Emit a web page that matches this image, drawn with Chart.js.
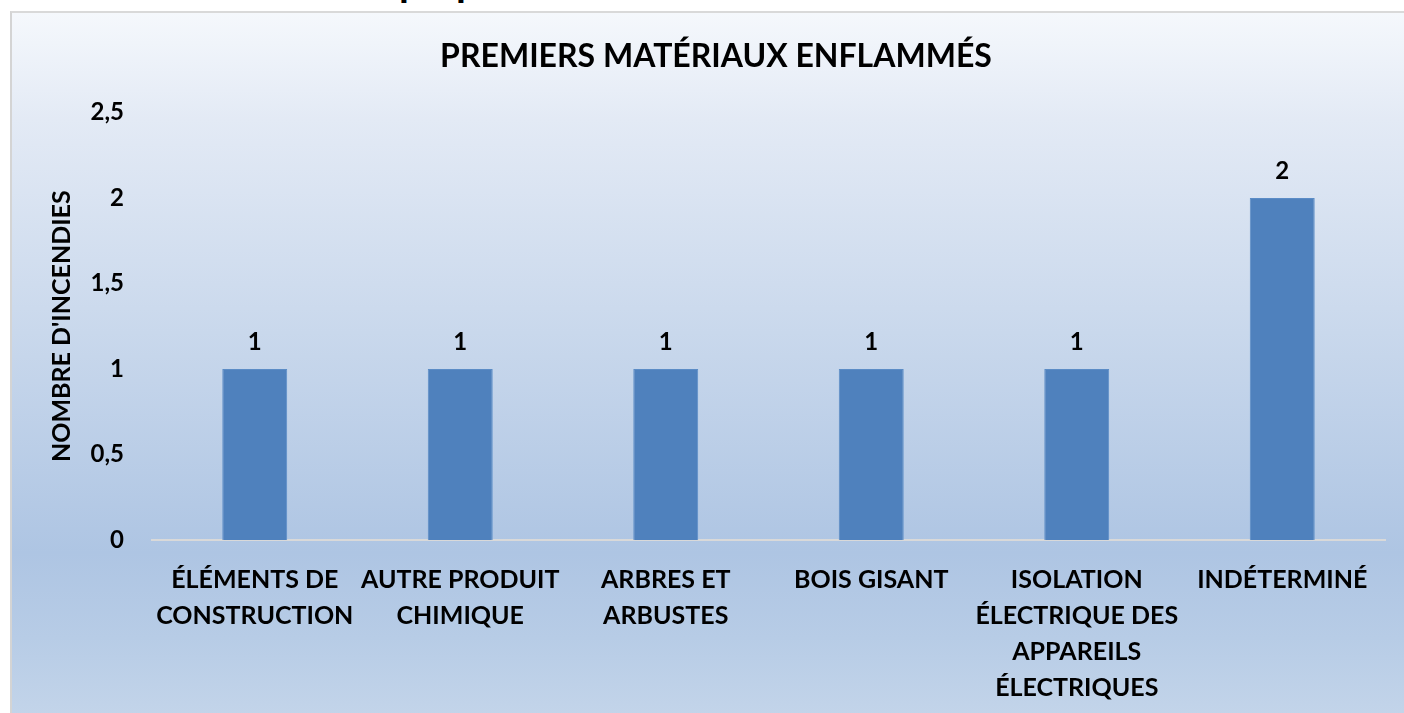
<!DOCTYPE html>
<html>
<head>
<meta charset="utf-8">
<script src="https://cdn.jsdelivr.net/npm/chart.js@4/dist/chart.umd.min.js"></script>
<style>
  html, body { margin: 0; padding: 0; background: #ffffff; overflow: hidden; }
  #bg {
    position: absolute; left: 10px; top: 11px; width: 1400px; height: 710px;
    border-left: 2px solid #d4d4d4; border-top: 2px solid #d9d9d9;
    background: linear-gradient(to bottom, #f5f8fc 0%, #e3eaf5 15%, #c9d8ec 45%, #aec5e3 76%, #b7cce6 88%, #c4d5ea 100%);
  }
  #wrap { position: absolute; left: 0; top: 0; width: 1404px; height: 713px; }
  .cut { position: absolute; font-family: Lato, sans-serif; font-weight: bold; font-size: 40px; line-height: 40px; color: #000; }
</style>
</head>
<body>
<div id="bg"></div>
<div class="cut" style="left:399px; top:-39px;">p</div>
<div class="cut" style="left:456px; top:-39px;">p</div>
<div id="wrap"><canvas id="c" width="1404" height="713"></canvas></div>
<script>
const chartTitle = "PREMIERS MATÉRIAUX ENFLAMMÉS";
const yAxisTitle = "NOMBRE D'INCENDIES";
const categories = [
  ["ÉLÉMENTS DE", "CONSTRUCTION"],
  ["AUTRE PRODUIT", "CHIMIQUE"],
  ["ARBRES ET", "ARBUSTES"],
  "BOIS GISANT",
  ["ISOLATION", "ÉLECTRIQUE DES", "APPAREILS", "ÉLECTRIQUES"],
  "INDÉTERMINÉ"
];
const values = [1, 1, 1, 1, 1, 2];
const yTicks = [0, 0.5, 1, 1.5, 2, 2.5];

const FONT = "Lato, 'Open Sans', sans-serif";

const dataLabels = {
  id: 'dataLabels',
  afterDatasetsDraw(chart) {
    const ctx = chart.ctx;
    const meta = chart.getDatasetMeta(0);
    ctx.save();
    ctx.font = "bold 24px " + FONT;
    ctx.fillStyle = "#000";
    ctx.textAlign = "center";
    ctx.textBaseline = "bottom";
    meta.data.forEach((bar, i) => {
      ctx.fillText(String(values[i]).replace('.', ','), bar.x, bar.y - 15);
    });
    ctx.restore();
  }
};

new Chart(document.getElementById('c'), {
  type: 'bar',
  data: {
    labels: categories,
    datasets: [{
      data: values,
      backgroundColor: '#4f81bd',
      borderColor: '#5b8cc6',
      borderWidth: 1,
      categoryPercentage: 1,
      barPercentage: 0.316
    }]
  },
  options: {
    responsive: false,
    animation: false,
    layout: { padding: { left: 47, right: 19, top: 0, bottom: 0 } },
    plugins: {
      legend: { display: false },
      tooltip: { enabled: false },
      title: {
        display: true,
        text: chartTitle,
        color: '#000',
        font: { family: FONT, size: 32, weight: 'bold', lineHeight: 1.2 },
        padding: { top: 37, bottom: 37 }
      }
    },
    scales: {
      x: {
        grid: { display: false },
        border: { display: true, color: '#d9d9d9', width: 2 },
        ticks: {
          color: '#000',
          font: { family: FONT, size: 25, weight: 'bold', lineHeight: 1.44 },
          maxRotation: 0, minRotation: 0, autoSkip: false, padding: 14
        },
        afterFit(scale) { scale.height = 173; }
      },
      y: {
        min: 0, max: 2.5,
        afterBuildTicks(scale) { scale.ticks = yTicks.map(v => ({ value: v })); },
        grid: { display: false },
        border: { display: false },
        ticks: {
          color: '#000',
          font: { family: FONT, size: 24, weight: 'bold' },
          padding: 20,
          callback: (v) => String(v).replace('.', ',')
        },
        title: {
          display: true,
          text: yAxisTitle,
          color: '#000',
          font: { family: FONT, size: 25, weight: 'bold', lineHeight: 1.2 },
          padding: { top: 0, bottom: 0 }
        },
        afterFit(scale) { scale.width = 105; }
      }
    }
  },
  plugins: [dataLabels]
});
</script>
</body>
</html>
